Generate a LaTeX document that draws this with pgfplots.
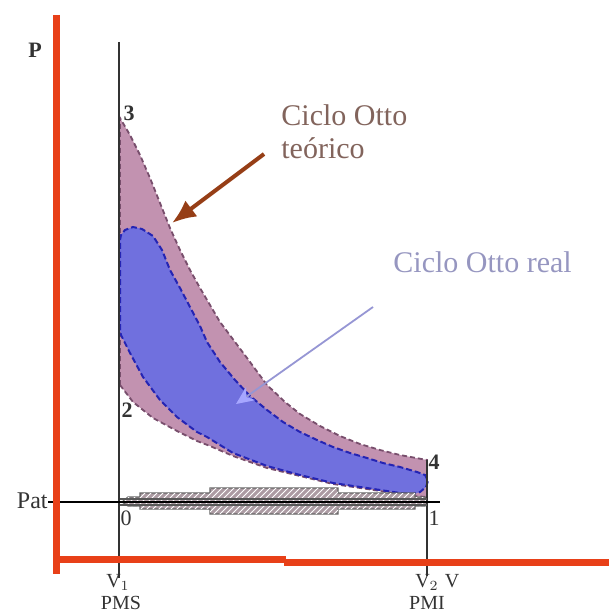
\documentclass[border=0pt]{standalone}
\usepackage{pgfplots}
\pgfplotsset{compat=1.18}
\usepackage{fontspec}
\setmainfont{Liberation Serif}
\usetikzlibrary{arrows.meta,patterns}
\definecolor{redc}{RGB}{232,64,24}
\definecolor{mauvef}{RGB}{194,146,176}
\definecolor{mauved}{RGB}{120,78,108}
\definecolor{bluef}{RGB}{112,112,222}
\definecolor{blued}{RGB}{36,36,180}
\definecolor{hatchc}{RGB}{172,155,163}
\definecolor{brownc}{RGB}{150,62,22}
\definecolor{brtext}{RGB}{130,100,92}
\definecolor{bltext}{RGB}{150,150,192}
\definecolor{blline}{RGB}{150,150,212}
\definecolor{axc}{RGB}{50,50,50}
\begin{document}
\begin{tikzpicture}
\begin{axis}[
  scale only axis, width=304.5pt, height=307pt,
  xmin=0, xmax=609, ymin=0, ymax=614, y dir=reverse,
  hide axis, clip=false]
\path (axis cs:0,0) rectangle (axis cs:609,614);
% theoretical cycle
\addplot[fill=mauvef, draw=mauved, line width=0.9pt, dash pattern=on 2.5pt off 1.5pt] coordinates {
(120,385) (120,118) (130,135) (140,155) (150,178) (160,203) (170,228) (180,250) (190,270) (200,288) (210,305) (220,322) (235,342) (250,362) (267,385) (285,402) (300,414) (320,426) (340,436) (360,444) (380,450) (400,455) (427,460)
(427,497) (413,496) (400,494) (367,489) (333,484) (300,476) (267,468) (233,456) (210,446) (197,441) (177,431) (153,418) (133,402) (120,385)} -- cycle;
% real cycle
\addplot[fill=bluef, draw=blued, line width=1pt, dash pattern=on 3pt off 1.5pt] coordinates {
(120,330) (120,240) (121,235) (125,230) (133,227) (142,229) (153,236) (162,250) (170,270) (180,288) (190,307) (200,326) (207,342) (220,362) (235,380) (250,396) (267,410) (283,422) (300,432) (317,440) (333,447) (350,453) (367,458) (383,463) (400,467) (417,472) (425,475) (428,481) (426,487) (420,492) (413,494) (400,493) (367,488) (333,483) (300,475) (267,466) (233,453) (207,437) (197,432) (177,417) (160,400) (143,377) (130,353) (121,335) (120,330)} -- cycle;
% pumping loop
\addplot[fill=hatchc, draw=gray!80!black, line width=0.6pt] coordinates {
(122,502) (128,497) (140,497) (140,493) (210,493) (210,488) (338,488) (338,493) (415,493) (415,497) (425,497) (428,502) (425,506) (415,506) (415,509) (338,509) (338,514) (210,514) (210,509) (140,509) (140,506) (128,506) (122,502)} -- cycle;
\addplot[pattern=north east lines, pattern color=white, draw=none] coordinates {
(122,502) (128,497) (140,497) (140,493) (210,493) (210,488) (338,488) (338,493) (415,493) (415,497) (425,497) (428,502) (425,506) (415,506) (415,509) (338,509) (338,514) (210,514) (210,509) (140,509) (140,506) (128,506) (122,502)} -- cycle;
% black lines
\addplot[draw=axc, line width=0.9pt] coordinates {(119,42) (119,578)};
\addplot[draw=axc, line width=0.9pt] coordinates {(427,460) (427,576)};
\addplot[draw=black, line width=0.8pt] coordinates {(48,502) (440,502)};
\addplot[draw=gray!70!black, line width=0.6pt] coordinates {(120,499) (427,499)};
\addplot[draw=gray!70!black, line width=0.6pt] coordinates {(120,505) (427,505)};
% red axes
\addplot[draw=redc, line width=3.5pt] coordinates {(56,15) (56,574)};
\addplot[draw=redc, line width=3.5pt] coordinates {(54,559) (286,559)};
\addplot[draw=redc, line width=3.5pt] coordinates {(284,562) (609,562)};
% arrows
\addplot[draw=brownc, line width=2pt, -{Latex[length=12pt,width=10pt]}] coordinates {(264,154) (172,223)};
\addplot[draw=blline, line width=0.9pt, -{Stealth[length=9pt,width=8pt,color=blue!35!white]}] coordinates {(373,307) (236,404)};
% labels
\node[font=\fontsize{11}{12}\selectfont\bfseries, text=black!80] at (axis cs:35,50) {P};
\node[font=\fontsize{11}{12}\selectfont\bfseries, text=black!80] at (axis cs:129,113) {3};
\node[font=\fontsize{11}{12}\selectfont\bfseries, text=black!80] at (axis cs:127,410) {2};
\node[font=\fontsize{11}{12}\selectfont\bfseries, text=black!80] at (axis cs:434,462) {4};
\node[font=\fontsize{11}{12}\selectfont, text=black!80] at (axis cs:126,518) {0};
\node[font=\fontsize{11}{12}\selectfont, text=black!80] at (axis cs:434,518) {1};
\node[font=\fontsize{12}{13}\selectfont, text=black!80, anchor=east, inner sep=0pt] at (axis cs:48,501) {Pat};
\node[font=\fontsize{10}{11}\selectfont, text=black!80, inner sep=0pt] at (axis cs:118,582) {V$_1$};
\node[font=\fontsize{10}{11}\selectfont, text=black!80, inner sep=0pt] at (axis cs:121,603) {PMS};
\node[font=\fontsize{10}{11}\selectfont, text=black!80, inner sep=0pt] at (axis cs:427,582) {V$_2$};
\node[font=\fontsize{10}{11}\selectfont, text=black!80, inner sep=0pt] at (axis cs:452,581) {V};
\node[font=\fontsize{10}{11}\selectfont, text=black!80, inner sep=0pt] at (axis cs:427,603) {PMI};
\node[font=\fontsize{15}{16.5}\selectfont, text=brtext, anchor=north west, align=left, inner sep=0pt] at (axis cs:281,104) {Ciclo Otto\\teórico};
\node[font=\fontsize{15}{16.5}\selectfont, text=bltext, anchor=west, inner sep=0pt] at (axis cs:393,262) {Ciclo Otto real};
\end{axis}
\end{tikzpicture}
\end{document}
